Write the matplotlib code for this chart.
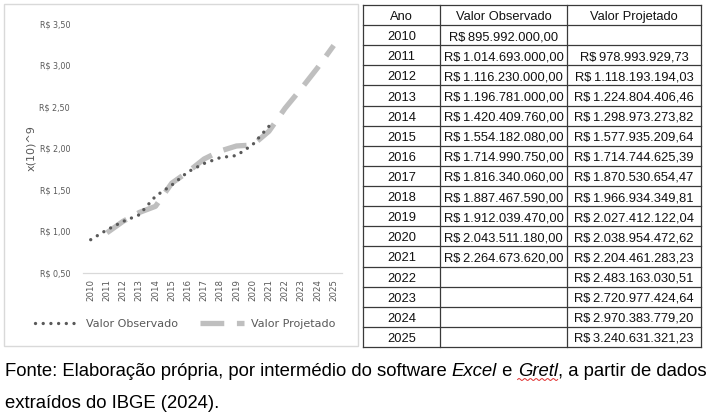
import matplotlib
matplotlib.use("Agg")
import matplotlib.pyplot as plt
import numpy as np
from matplotlib.patches import Rectangle
from matplotlib.lines import Line2D

W, H = 717, 419

# data (R$)
anos = list(range(2010, 2026))
valor_observado = [895992000.00, 1014693000.00, 1116230000.00, 1196781000.00,
                   1420409760.00, 1554182080.00, 1714990750.00, 1816340060.00,
                   1887467590.00, 1912039470.00, 2043511180.00, 2264673620.00]
valor_projetado = [None, 978993929.73, 1118193194.03, 1224804406.46,
                   1298973273.82, 1577935209.64, 1714744625.39, 1870530654.47,
                   1966934349.81, 2027412122.04, 2038954472.62, 2204461283.23,
                   2483163030.51, 2720977424.64, 2970383779.20, 3240631321.23]
y_ticks = [0.5, 1.0, 1.5, 2.0, 2.5, 3.0, 3.5]
y_tick_labels = ["R$ 0,50", "R$ 1,00", "R$ 1,50", "R$ 2,00", "R$ 2,50", "R$ 3,00", "R$ 3,50"]
col_headers = ["Ano", "Valor Observado", "Valor Projetado"]

GREY_TXT = "#595959"
DOT_COLOR = "#595959"
DASH_COLOR = "#bfbfbf"


def brl(v):
    s = f"{v:,.2f}".replace(",", "X").replace(".", ",").replace("X", ".")
    return "R$\u2009" + s


def fx(px):
    return px / W


def fy(py):
    return 1 - py / H


fig = plt.figure(figsize=(W / 100, H / 100), dpi=100)
fig.patch.set_facecolor("white")

# chart panel border
fig.patches.append(Rectangle((fx(4), fy(346)), fx(354), (342) / H,
                             transform=fig.transFigure, fill=False,
                             edgecolor="#d9d9d9", linewidth=1.0))

# chart
ax = fig.add_axes([fx(82.6), fy(272.5), fx(259.2), (272.5 - 24) / H])
xs = np.arange(len(anos))
obs_y = np.array(valor_observado) / 1e9
proj_x = [i for i, v in enumerate(valor_projetado) if v is not None]
proj_y = np.array([v for v in valor_projetado if v is not None]) / 1e9

ax.plot(proj_x, proj_y, color=DASH_COLOR, linewidth=3.8,
        dashes=(4.5, 2.4), zorder=2)
ax.plot(xs[:len(obs_y)], obs_y, color=DOT_COLOR, linewidth=2.4,
        linestyle=(0, (0.01, 2.3)), dash_capstyle="round", zorder=3)

ax.set_xlim(-0.5, len(anos) - 0.5)
ax.set_ylim(0.5, 3.5)
ax.set_yticks(y_ticks)
ax.set_yticklabels(y_tick_labels)
ax.set_xticks(xs)
ax.set_xticklabels([str(a) for a in anos], rotation=90)
ax.tick_params(axis="y", length=0, pad=9, labelsize=5.8, labelcolor=GREY_TXT)
ax.tick_params(axis="x", length=0, pad=5, labelsize=6.2, labelcolor=GREY_TXT)
for sp in ("top", "right", "left"):
    ax.spines[sp].set_visible(False)
ax.spines["bottom"].set_color("#d9d9d9")
ax.spines["bottom"].set_linewidth(0.9)

fig.text(fx(31), fy(148), "x(10)^9", rotation=90, ha="center", va="center",
         fontsize=8, color=GREY_TXT)

handles = [
    Line2D([], [], color=DOT_COLOR, linewidth=2.4, linestyle=(0, (0.01, 2.3)),
           dash_capstyle="round"),
    Line2D([], [], color=DASH_COLOR, linewidth=3.8, dashes=(4.5, 2.4)),
]
fig.legend(handles, ["Valor Observado", "Valor Projetado"], loc="center",
           bbox_to_anchor=(fx(185), fy(324)), ncol=2, frameon=False,
           fontsize=8.0, labelcolor=GREY_TXT, handlelength=4.0,
           columnspacing=2.0, handletextpad=0.6)

# table
tx0, tx1, ty0, ty1 = 363, 701, 5, 347
col_edges = [363, 440, 567, 701]
n_rows = len(anos) + 1
row_h = (ty1 - ty0) / n_rows
tab = fig.add_axes([fx(tx0), fy(ty1), fx(tx1 - tx0), (ty1 - ty0) / H])
tab.set_xlim(tx0, tx1)
tab.set_ylim(ty1, ty0)
tab.axis("off")
for i in range(n_rows + 1):
    tab.plot([tx0, tx1], [ty0 + i * row_h] * 2, color="#3a3a3a", linewidth=0.9,
             clip_on=False)
for c in col_edges:
    tab.plot([c, c], [ty0, ty1], color="#3a3a3a", linewidth=0.9, clip_on=False)

cell_font = dict(fontsize=9.3, family="Liberation Sans",
                 color="#111111", ha="center", va="center_baseline")
centers = [(col_edges[k] + col_edges[k + 1]) / 2 for k in range(3)]
for k, hdr in enumerate(col_headers):
    tab.text(centers[k], ty0 + row_h / 2 + 0.5, hdr, **cell_font)
for r, ano in enumerate(anos):
    yc = ty0 + (r + 1.5) * row_h + 0.5
    tab.text(centers[0], yc, str(ano), **cell_font)
    if r < len(valor_observado):
        tab.text(centers[1], yc, brl(valor_observado[r]), **cell_font)
    if valor_projetado[r] is not None:
        tab.text(centers[2], yc, brl(valor_projetado[r]), **cell_font)

# caption with italic pieces
renderer = fig.canvas.get_renderer()
cap_font = dict(fontsize=13.3, family="Liberation Sans", color="black", va="baseline")
pieces = [("Fonte: Elaboração própria, por intermédio do software ", "normal"),
          ("Excel", "italic"), (" e ", "normal"), ("Gretl", "italic"),
          (", a partir de dados", "normal")]
x = 5
for txt, style in pieces:
    t = fig.text(fx(x), fy(376), txt, style=style, **cap_font)
    bb = t.get_window_extent(renderer)
    if txt == "Gretl":
        wx = np.linspace(bb.x0, bb.x1, 40)
        wy = H - 379.5 + 1.0 * np.sin(np.linspace(0, 14 * np.pi, 40))
        fig.add_artist(Line2D(wx / W, wy / H, transform=fig.transFigure,
                              color="#e03030", linewidth=0.7))
    x = bb.x1
fig.text(fx(5), fy(408), "extraídos do IBGE (2024).", **cap_font)

fig.savefig("out.png", dpi=100, facecolor="white")
